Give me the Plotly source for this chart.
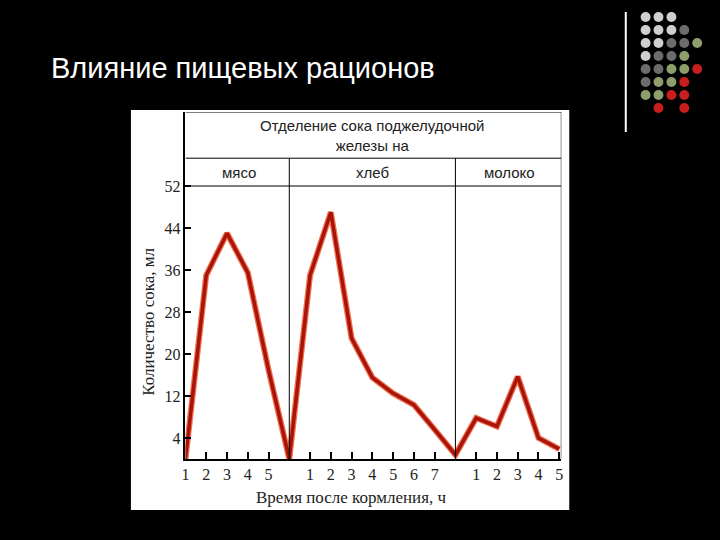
import plotly.graph_objects as go

# data: continuous index positions across three feeding regimes
meat_x = [0, 1, 2, 3, 4, 5]
meat_y = [0, 35, 43, 35.5, 17, 0]
bread_x = [5, 6, 7, 8, 9, 10, 11, 12, 13]
bread_y = [0, 35, 47, 23, 15.5, 12.5, 10.3, 5.6, 0.8]
milk_x = [13, 14, 15, 16, 17, 18]
milk_y = [0.8, 7.8, 6.2, 15.7, 4, 1.9]
tick_pos = [0, 1, 2, 3, 4, 6, 7, 8, 9, 10, 11, 12, 14, 15, 16, 17, 18]
tick_lab = ["1", "2", "3", "4", "5", "1", "2", "3", "4", "5", "6", "7", "1", "2", "3", "4", "5"]
y_ticks = [4, 12, 20, 28, 36, 44, 52]
groups = ["мясо", "хлеб", "молоко"]
group_centers = [2.6, 9, 15.6]

YTOP = 66.1
fig = go.Figure()
xs = meat_x + bread_x[1:] + milk_x[1:]
ys = meat_y + bread_y[1:] + milk_y[1:]
fig.add_trace(go.Scatter(x=xs, y=ys, mode="lines",
                         line=dict(color="#f07050", width=6), hoverinfo="skip"))
fig.add_trace(go.Scatter(x=xs, y=ys, mode="lines",
                         line=dict(color="#a8140a", width=3.5), hoverinfo="skip"))

shapes = []
shapes.append(dict(type="rect", xref="paper", yref="paper", x0=128/720, x1=570/720,
                   y0=1-510/540, y1=1-110/540, fillcolor="white", line_width=0, layer="below"))
for yv in [52, 57.3]:
    shapes.append(dict(type="line", xref="x", yref="y", x0=0, x1=18.1, y0=yv, y1=yv,
                       line=dict(color="black", width=1)))
shapes.append(dict(type="line", xref="x", yref="y", x0=0, x1=18.1, y0=YTOP, y1=YTOP,
                   line=dict(color="black", width=1)))
for xv in [5, 13]:
    shapes.append(dict(type="line", xref="x", yref="y", x0=xv, x1=xv, y0=0, y1=57.3,
                       line=dict(color="black", width=1)))
shapes.append(dict(type="line", xref="x", yref="y", x0=18.1, x1=18.1, y0=0, y1=YTOP,
                   line=dict(color="black", width=1)))
shapes.append(dict(type="line", xref="paper", yref="paper", x0=627/720, x1=627/720,
                   y0=1-132/540, y1=1-12/540, line=dict(color="white", width=2)))
L, D, G, R = "#cfcfcf", "#6c6c6c", "#8f9f6c", "#c81e1e"
rows = [[L, L, L], [L, L, L, D], [L, L, D, D, G], [L, D, D, G],
        [D, D, G, G, R], [D, G, G, R], [G, G, R, R], [None, R, None, R]]
cols_x = [647, 660, 673, 686, 699]
rows_y = [17, 30, 43, 56, 69, 82, 95, 108]
for ri, row in enumerate(rows):
    for ci, c in enumerate(row):
        if c is None:
            continue
        cx, cy = cols_x[ci], rows_y[ri]
        shapes.append(dict(type="circle", xref="paper", yref="paper",
                           x0=(cx-5)/720, x1=(cx+5)/720, y0=1-(cy+5)/540, y1=1-(cy-5)/540,
                           fillcolor=c, line_width=0))

ann = []
ann.append(dict(text="Влияние пищевых рационов", xref="paper", yref="paper", x=45/720, y=1-68/540,
                xanchor="left", yanchor="middle", showarrow=False,
                font=dict(family="Liberation Sans", size=29, color="white")))
ann.append(dict(text="Отделение сока поджелудочной<br>железы на", xref="x", yref="y", x=9, y=61.7,
                showarrow=False, font=dict(family="Liberation Sans", size=15, color="#222"),
                yanchor="middle"))
for g, cx in zip(groups, group_centers):
    ann.append(dict(text=g, xref="x", yref="y", x=cx, y=54.6, showarrow=False,
                    font=dict(family="Liberation Sans", size=15, color="#222"), yanchor="middle"))
ann.append(dict(text="Время после кормления, ч", xref="paper", yref="paper", x=350/720, y=1-497/540,
                showarrow=False, yanchor="middle",
                font=dict(family="Liberation Serif", size=17, color="#222")))
ann.append(dict(text="Количество сока, мл", xref="paper", yref="paper", x=145/720, y=1-322/540,
                showarrow=False, textangle=-90, xanchor="center",
                font=dict(family="Liberation Serif", size=17, color="#222")))

fig.update_layout(
    width=720, height=540, margin=dict(l=0, r=0, t=0, b=0),
    paper_bgcolor="black", plot_bgcolor="rgba(0,0,0,0)", showlegend=False,
    shapes=shapes, annotations=ann,
    xaxis=dict(domain=[183/720, 562/720], range=[0, 18.1], tickvals=tick_pos, ticktext=tick_lab,
               ticks="inside", ticklen=7, tickwidth=2, tickcolor="black", showgrid=False,
               zeroline=False, showline=True, linecolor="black", linewidth=1.5,
               tickfont=dict(family="Liberation Serif", size=16, color="#222")),
    yaxis=dict(domain=[1-459/540, 1-112/540], range=[0, YTOP], tickvals=y_ticks,
               ticks="inside", ticklen=6, tickwidth=1.5, tickcolor="black", showgrid=False,
               zeroline=False, showline=True, linecolor="black", linewidth=1.5,
               tickfont=dict(family="Liberation Serif", size=16, color="#222")),
)
fig.write_html("out.html", config={"displayModeBar": False},
               post_script="document.body.style.margin='0';document.body.style.overflow='hidden';")
